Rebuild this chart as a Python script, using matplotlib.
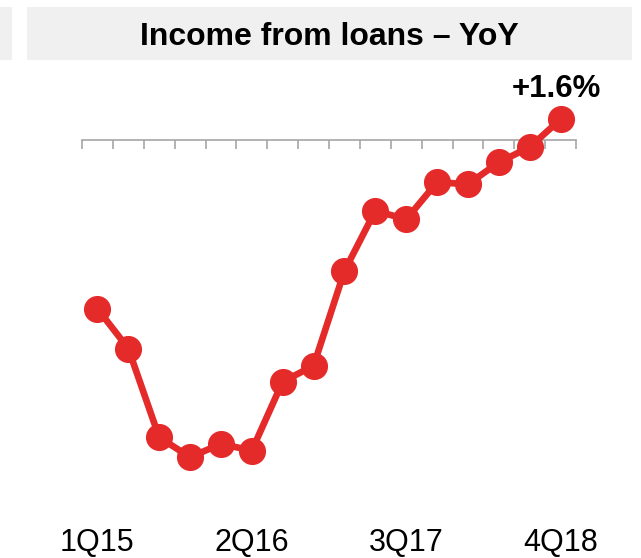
import matplotlib
matplotlib.use("Agg")
import matplotlib.pyplot as plt
from matplotlib.patches import Rectangle
from matplotlib.ticker import FixedLocator

plt.rcParams['font.family'] = ['Liberation Sans', 'DejaVu Sans']

# ---- data ----
quarters = ["1Q15", "2Q15", "3Q15", "4Q15", "1Q16", "2Q16", "3Q16", "4Q16",
            "1Q17", "2Q17", "3Q17", "4Q17", "1Q18", "2Q18", "3Q18", "4Q18"]
yoy = [-12.7, -15.7, -22.4, -23.9, -22.9, -23.4, -18.2, -17.0,
       -9.85, -5.3, -5.95, -3.15, -3.3, -1.65, -0.5, 1.6]
shown_labels = ["1Q15", "2Q16", "3Q17", "4Q18"]
title = "Income from loans \u2013 YoY"
last_label = "+1.6%"

RED = "#E52A2A"
GRAY = "#A6A6A6"
BAND = "#F0F0F0"

W, H = 641, 558
fig = plt.figure(figsize=(W / 100, H / 100), dpi=100)

def px(x0, y0, x1, y1):
    # figure-fraction rect from pixel box (top-left origin)
    return [x0 / W, 1 - y1 / H, (x1 - x0) / W, (y1 - y0) / H]

# header bands
for (x0, y0, x1, y1) in [(0, 7, 12, 60), (27, 7, 632, 60)]:
    fig.patches.append(Rectangle((x0 / W, 1 - y1 / H), (x1 - x0) / W, (y1 - y0) / H,
                                 transform=fig.transFigure, facecolor=BAND,
                                 edgecolor='none', zorder=0))
fig.text(329.5 / W, 1 - 45 / H, title, ha='center', va='baseline',
         fontsize=23, fontweight='bold', color='black')

# axes
top_px, bot_px, zero_px = 60, 520, 140.5
scale = 13.25  # px per unit
ax = fig.add_axes(px(82, top_px, 576, bot_px))
n = len(quarters)
xs = list(range(n))
ax.set_xlim(-0.5, n - 0.5)
ax.set_ylim(-(bot_px - zero_px) / scale, (zero_px - top_px) / scale)

ax.plot(xs, yoy, color=RED, lw=4.8, marker='o', markersize=18.5,
        markerfacecolor=RED, markeredgecolor=RED, solid_capstyle='round', zorder=3,
        clip_on=False)

# axis line at zero with tick marks at quarter boundaries
for s in ['left', 'right', 'top']:
    ax.spines[s].set_visible(False)
ax.spines['bottom'].set_position(('data', 0))
ax.spines['bottom'].set_color(GRAY)
ax.spines['bottom'].set_linewidth(1.2)
ax.spines['bottom'].set_zorder(1)
ax.xaxis.set_major_locator(FixedLocator([i - 0.5 for i in range(n + 1)]))
ax.tick_params(axis='x', which='major', direction='out', length=6.5, width=1.2,
               color=GRAY, labelbottom=False)
ax.set_yticks([])

# category labels at bottom
idx = [quarters.index(q) for q in shown_labels]
sec = ax.secondary_xaxis('bottom')
sec.set_xticks(idx)
sec.set_xticklabels(shown_labels)
sec.tick_params(length=0, pad=5.5, labelsize=22)
sec.spines['bottom'].set_visible(False)

# annotation of last value
ax.annotate(last_label, xy=(n - 1, yoy[-1]), xytext=(-2.9, 16.4),
            textcoords='offset points', ha='center', va='baseline',
            fontsize=22.5, fontweight='bold', color='black')

fig.savefig("out.png", dpi=100)
